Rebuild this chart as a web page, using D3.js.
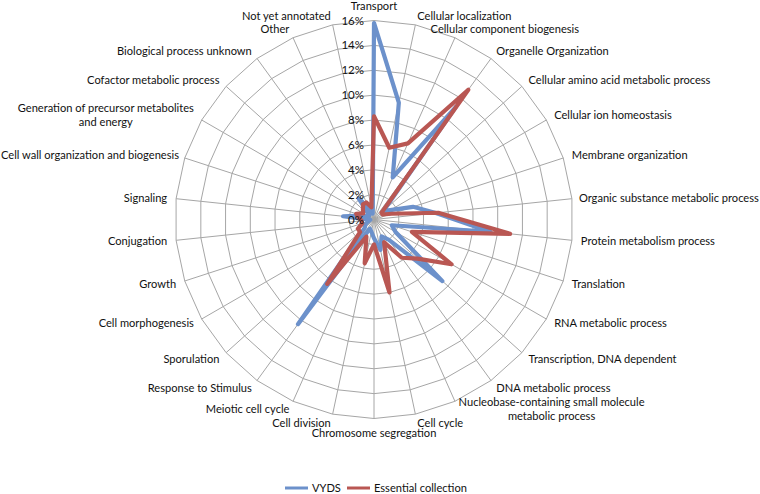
<!DOCTYPE html>
<html>
<head>
<meta charset="utf-8">
<script src="https://cdn.jsdelivr.net/npm/d3@7"></script>
<style>
  html, body { margin: 0; padding: 0; background: #fff; }
  svg text { font-family: Lato, "Open Sans", sans-serif; fill: #111; }
</style>
</head>
<body>
<svg id="chart" width="760" height="494"></svg>
<script>
const categories = [
  "Transport", "Cellular localization", "Cellular component biogenesis",
  "Organelle Organization", "Cellular amino acid metabolic process",
  "Cellular ion homeostasis", "Membrane organization",
  "Organic substance metabolic process", "Protein metabolism process",
  "Translation", "RNA metabolic process", "Transcription, DNA dependent",
  "DNA metabolic process", "Nucleobase-containing small molecule\nmetabolic process",
  "Cell cycle", "Chromosome segregation", "Cell division", "Meiotic cell cycle",
  "Response to Stimulus", "Sporulation", "Cell morphogenesis", "Growth",
  "Conjugation", "Signaling", "Cell wall organization and biogenesis",
  "Generation of precursor metabolites\nand energy", "Cofactor metabolic process",
  "Biological process unknown", "Other", "Not yet annotated"
];
const vyds = [
  15.8, 9.6, 3.7, 11.2, 1.0, 1.5, 3.3, 5.0, 9.4, 1.5,
  2.0, 7.4, 2.0, 1.5, 2.5, 1.5, 1.0, 0.8, 10.4, 1.0,
  0.8, 0.5, 0.3, 2.5, 1.0, 0.5, 0.5, 2.1, 1.0, 0.5
];
const essential = [
  8.3, 5.9, 6.7, 12.9, 0.8, 0.8, 1.5, 5.2, 11.0, 3.2,
  7.2, 4.7, 3.8, 2.0, 6.0, 2.0, 3.6, 1.5, 6.4, 1.5,
  1.5, 1.0, 1.0, 1.2, 1.5, 1.0, 1.2, 1.5, 1.5, 1.0
];
const tickValues = [0, 2, 4, 6, 8, 10, 12, 14, 16];
const seriesNames = ["VYDS", "Essential collection"];
const seriesColors = ["#6C91CB", "#B95753"];

const svg = d3.select("#chart");
const cx = 374, cy = 219.5, R = 199;
const n = categories.length;
const r = d3.scaleLinear().domain([0, 16]).range([0, R]);
const ang = i => i * 2 * Math.PI / n;

const g = svg.append("g").attr("transform", `translate(${cx},${cy})`);

// grid rings (polygonal)
const ringLine = d3.lineRadial().angle((d, i) => ang(i)).radius(d => r(d)).curve(d3.curveLinearClosed);
tickValues.filter(t => t > 0).forEach(t => {
  g.append("path").attr("d", ringLine(categories.map(() => t)))
    .attr("fill", "none").attr("stroke", "#a6a6a6").attr("stroke-width", 1);
});
// spokes
categories.forEach((c, i) => {
  const a = ang(i);
  g.append("line").attr("x1", 0).attr("y1", 0)
    .attr("x2", r(16) * Math.sin(a)).attr("y2", -r(16) * Math.cos(a))
    .attr("stroke", "#a6a6a6").attr("stroke-width", 1);
});

// series
const seriesLine = d3.lineRadial().angle((d, i) => ang(i)).radius(d => r(d)).curve(d3.curveLinearClosed);
[vyds, essential].forEach((vals, k) => {
  g.append("path").attr("d", seriesLine(vals))
    .attr("fill", "none").attr("stroke", seriesColors[k]).attr("stroke-width", 4.2)
    .attr("stroke-linejoin", "round");
});

const fs = 11.1, lh = 14;

// tick labels
tickValues.forEach(t => {
  g.append("text").attr("x", -10).attr("y", -r(t)).attr("dy", "0.35em")
    .attr("text-anchor", "end").style("font-size", "11.5px").text(t + "%");
});

// category labels
const labelShift = { 2: -28 };
categories.forEach((c, i) => {
  const a = ang(i);
  const s = Math.sin(a), co = Math.cos(a);
  const rr = R + 9;
  let x = rr * s, y = -rr * co;
  let anchor = "middle";
  if (s > 0.05) anchor = "start"; else if (s < -0.05) anchor = "end";
  if (anchor === "middle") y += co > 0 ? -5 : 6;
  if (labelShift[i]) x += labelShift[i];
  const lines = c.split("\n");
  const t = g.append("text").style("font-size", fs + "px");
  const y0 = y - (lines.length - 1) * lh / 2;
  lines.forEach((ln, j) => {
    t.append("tspan").attr("x", x).attr("y", y0 + j * lh).attr("dy", "0.35em").text(ln);
  });
  if (lines.length > 1) {
    const widths = [];
    t.selectAll("tspan").each(function() { widths.push(this.getComputedTextLength()); });
    const w = d3.max(widths);
    const left = anchor === "start" ? x : anchor === "end" ? x - w : x - w / 2;
    t.selectAll("tspan").attr("text-anchor", "middle").attr("x", left + w / 2);
  } else {
    t.attr("text-anchor", anchor);
  }
  // keep inside the canvas
  const bb = t.node().getBBox();
  const absLeft = cx + bb.x, absRight = cx + bb.x + bb.width;
  let shift = 0;
  if (absLeft < 1) shift = 1 - absLeft;
  else if (absRight > 759) shift = 759 - absRight;
  if (shift) t.attr("transform", `translate(${shift},0)`);
});

// legend
const legend = svg.append("g").attr("transform", "translate(0,488)");
const legX = [285, 347];
seriesNames.forEach((name, k) => {
  legend.append("line").attr("x1", legX[k]).attr("x2", legX[k] + 23).attr("y1", 0).attr("y2", 0)
    .attr("stroke", seriesColors[k]).attr("stroke-width", 3);
  legend.append("text").attr("x", legX[k] + 27).attr("y", 0).attr("dy", "0.32em")
    .style("font-size", fs + "px").text(name);
});
</script>
</body>
</html>
